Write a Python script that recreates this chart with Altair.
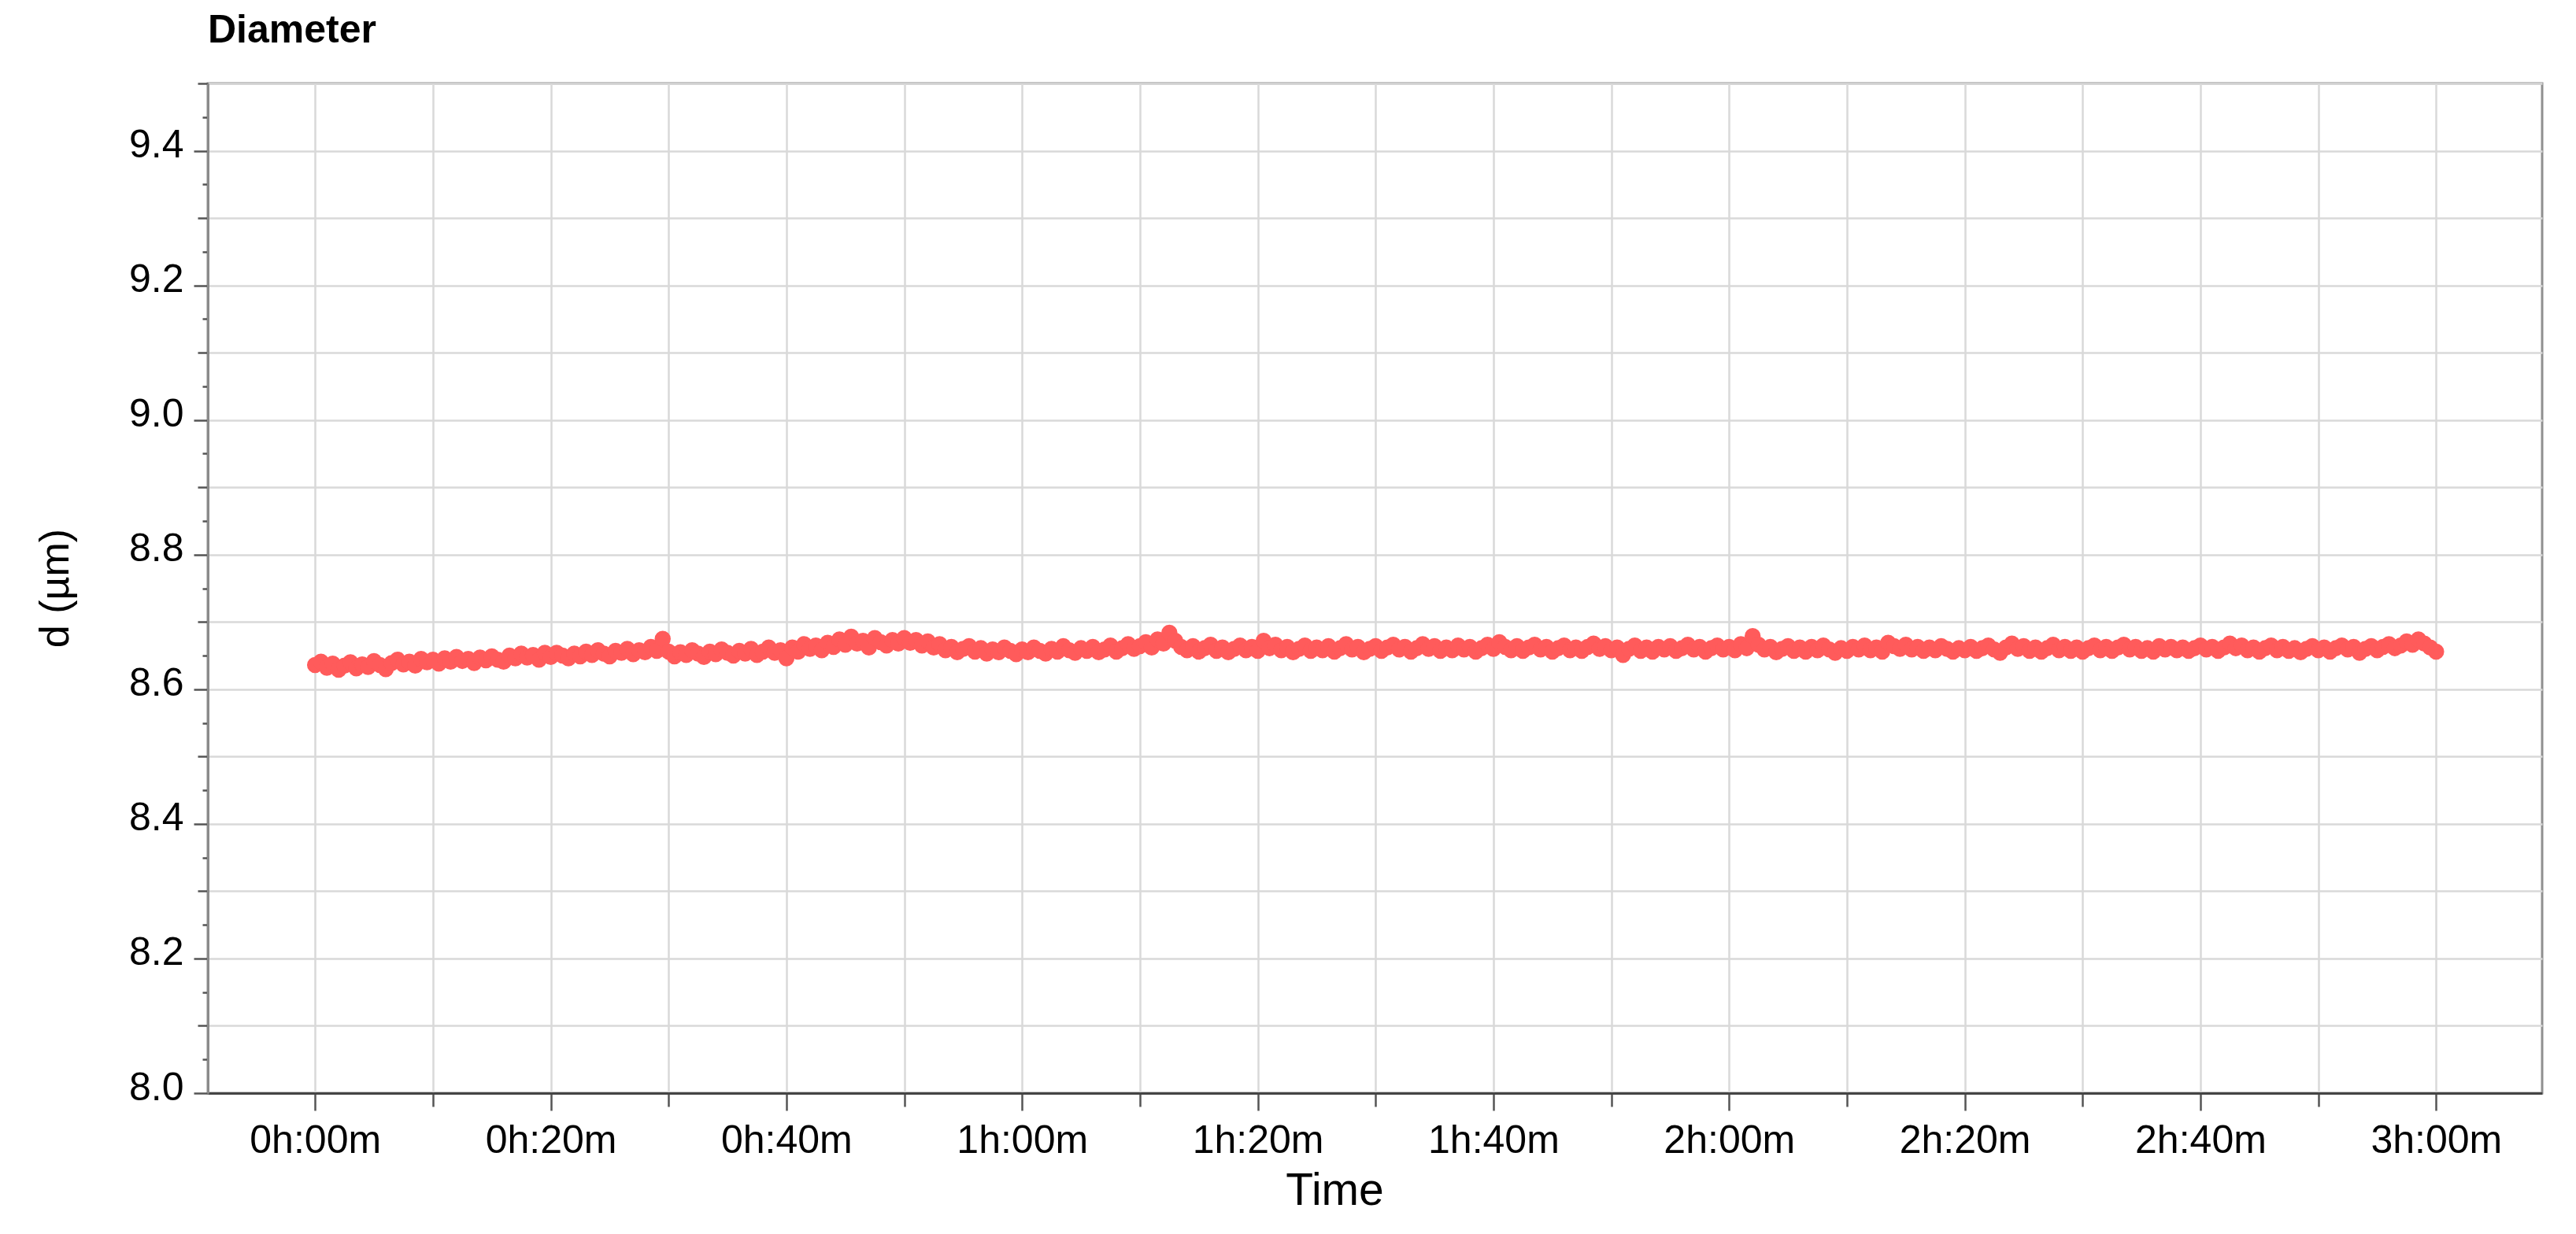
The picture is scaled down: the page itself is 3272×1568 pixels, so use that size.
import altair as alt
import pandas as pd

# ---- data ----
t_start_min = 0.0
t_step_min = 0.5
diameter_um = [
    8.636, 8.641, 8.632, 8.638, 8.629, 8.635, 8.640, 8.631, 8.637, 8.633,
    8.642, 8.636, 8.630, 8.639, 8.644, 8.637, 8.641, 8.635, 8.645, 8.640,
    8.644, 8.638, 8.646, 8.641, 8.648, 8.642, 8.645, 8.639, 8.647, 8.643,
    8.649, 8.644, 8.641, 8.650, 8.646, 8.653, 8.647, 8.651, 8.644, 8.654,
    8.648, 8.654, 8.650, 8.646, 8.653, 8.649, 8.656, 8.651, 8.658, 8.653,
    8.649, 8.657, 8.654, 8.660, 8.652, 8.658, 8.655, 8.663, 8.657, 8.675,
    8.656, 8.649, 8.655, 8.651, 8.658, 8.653, 8.648, 8.656, 8.652, 8.659,
    8.654, 8.650, 8.657, 8.653, 8.660, 8.651, 8.656, 8.662, 8.654, 8.658,
    8.646, 8.662, 8.656, 8.667, 8.660, 8.665, 8.658, 8.669, 8.663, 8.674,
    8.666, 8.678, 8.668, 8.672, 8.662, 8.676, 8.670, 8.665, 8.673, 8.668,
    8.676, 8.669, 8.673, 8.665, 8.671, 8.662, 8.667, 8.658, 8.663, 8.655,
    8.660, 8.664, 8.656, 8.661, 8.653, 8.659, 8.655, 8.662, 8.657, 8.652,
    8.659, 8.655, 8.662, 8.657, 8.653, 8.660, 8.656, 8.664, 8.658, 8.654,
    8.661, 8.657, 8.663, 8.655, 8.659, 8.665, 8.656, 8.661, 8.667, 8.660,
    8.664, 8.670, 8.662, 8.674, 8.668, 8.684, 8.672, 8.663, 8.658, 8.664,
    8.656, 8.661, 8.666, 8.657, 8.662, 8.655, 8.660, 8.665, 8.658, 8.663,
    8.657, 8.672, 8.661, 8.666, 8.658, 8.663, 8.655, 8.660, 8.665, 8.657,
    8.662, 8.658, 8.664, 8.656, 8.661, 8.667, 8.659, 8.663, 8.655, 8.660,
    8.664, 8.657, 8.662, 8.666, 8.659, 8.663, 8.656, 8.661, 8.667, 8.660,
    8.664, 8.657, 8.662, 8.658, 8.665, 8.659, 8.663, 8.656, 8.661, 8.666,
    8.660, 8.670, 8.663, 8.658, 8.664, 8.657, 8.662, 8.666, 8.659, 8.663,
    8.656, 8.661, 8.665, 8.658, 8.662, 8.657, 8.663, 8.668, 8.660, 8.664,
    8.658, 8.662, 8.651, 8.660, 8.665, 8.657, 8.662, 8.656, 8.663, 8.659,
    8.664, 8.657, 8.661, 8.666, 8.659, 8.663, 8.656, 8.661, 8.665, 8.659,
    8.663, 8.658, 8.667, 8.661, 8.679, 8.666, 8.659, 8.663, 8.655, 8.660,
    8.664, 8.657, 8.662, 8.656, 8.663, 8.658, 8.665, 8.659, 8.654, 8.661,
    8.657, 8.663, 8.659, 8.665, 8.658, 8.662, 8.656, 8.669, 8.664, 8.660,
    8.666, 8.659, 8.663, 8.657, 8.662, 8.658, 8.664, 8.660, 8.656, 8.661,
    8.658, 8.663, 8.657, 8.661, 8.665, 8.659, 8.654, 8.662, 8.668, 8.660,
    8.664, 8.657, 8.662, 8.656, 8.661, 8.666, 8.658, 8.663, 8.657, 8.662,
    8.656, 8.661, 8.665, 8.658, 8.663, 8.657, 8.662, 8.666, 8.659, 8.663,
    8.657, 8.661, 8.656, 8.664, 8.659, 8.663, 8.658, 8.662, 8.657, 8.661,
    8.665, 8.659, 8.663, 8.657, 8.662, 8.668, 8.661, 8.665, 8.658, 8.662,
    8.656, 8.661, 8.665, 8.658, 8.663, 8.657, 8.661, 8.655, 8.660, 8.664,
    8.658, 8.662, 8.656, 8.661, 8.665, 8.659, 8.663, 8.654, 8.660, 8.664,
    8.658, 8.663, 8.667, 8.661, 8.665, 8.671, 8.666, 8.674, 8.668, 8.662,
    8.656,
]
time_min = [t_start_min + t_step_min * i for i in range(len(diameter_um))]

x_ticks = [0, 10, 20, 30, 40, 50, 60, 70, 80, 90, 100, 110, 120, 130, 140,
           150, 160, 170, 180]
y_ticks = [8.0, 8.05, 8.1, 8.15, 8.2, 8.25, 8.3, 8.35, 8.4, 8.45, 8.5, 8.55,
           8.6, 8.65, 8.7, 8.75, 8.8, 8.85, 8.9, 8.95, 9.0, 9.05, 9.1, 9.15,
           9.2, 9.25, 9.3, 9.35, 9.4, 9.45, 9.5]

df = pd.DataFrame({"time_min": time_min, "d": diameter_um})

FONT = "Liberation Sans"
is_tenth = "abs(datum.value*10 - round(datum.value*10)) < 0.01"
is_fifth = "abs(datum.value*5 - round(datum.value*5)) < 0.01"
x_label = ("datum.value % 20 == 0 ? (floor(datum.value/60) + 'h:' + "
           "(datum.value % 60 < 10 ? '0' : '') + (datum.value % 60) + 'm') : ''")
y_label = is_fifth + " ? format(datum.value, '.1f') : ''"

x_axis = alt.Axis(
    values=x_ticks, title="Time", labelExpr=x_label,
    grid=True, gridColor="#D9D9D9", gridWidth=2.5,
    tickSize={"condition": {"test": "datum.value % 20 == 0", "value": 22}, "value": 17},
    tickColor="#555555", tickWidth=2.5,
    domainColor="#444444", domainWidth=3,
    labelFont=FONT, labelFontSize=50, labelColor="#000000", labelPadding=13,
    labelFlush=False, labelOverlap=False,
    titleFont=FONT, titleFontSize=57, titleFontWeight="normal", titleColor="#000000",
    titleX=1431, titleY=124, titleAlign="center", titleBaseline="middle",
)

y_axis = alt.Axis(
    values=y_ticks, title="d (µm)", labelExpr=y_label,
    grid=True, gridColor="#D9D9D9", gridWidth=2.5,
    gridOpacity={"condition": {"test": is_tenth, "value": 1}, "value": 0},
    tickSize={"condition": [{"test": is_fifth, "value": 18},
                            {"test": is_tenth, "value": 13}], "value": 7},
    tickColor="#555555", tickWidth=2.5,
    domainColor="#8A8A8A", domainWidth=3,
    labelFont=FONT, labelFontSize=50, labelColor="#000000", labelPadding=13,
    labelOffset=-7, labelOverlap=False, labelFlush=False,
    titleFont=FONT, titleFontSize=52, titleFontWeight="normal", titleColor="#000000",
    titleAngle=270, titleX=-194, titleY=641, titleAlign="center", titleBaseline="middle",
)

chart = (
    alt.Chart(df)
    .mark_circle(size=420, color="#FF5B5B", opacity=1)
    .encode(
        x=alt.X("time_min:Q", scale=alt.Scale(domain=[-9.1, 189.0], nice=False, zero=False),
                axis=x_axis),
        y=alt.Y("d:Q", scale=alt.Scale(domain=[8.0, 9.5], nice=False, zero=False),
                axis=y_axis),
    )
    .properties(
        width=2965,
        height=1283,
        title=alt.Title("Diameter", anchor="start", frame="group", font=FONT,
                        fontSize=50, fontWeight="bold", color="#000000",
                        offset=10),
        autosize=alt.AutoSizeParams(type="none"),
        padding={"left": 256, "top": 98, "right": 30, "bottom": 172},
    )
    .configure_view(stroke="#8F8F8F", strokeWidth=3)
)

chart.save("out.html", embed_options={"renderer": "svg", "actions": False})
